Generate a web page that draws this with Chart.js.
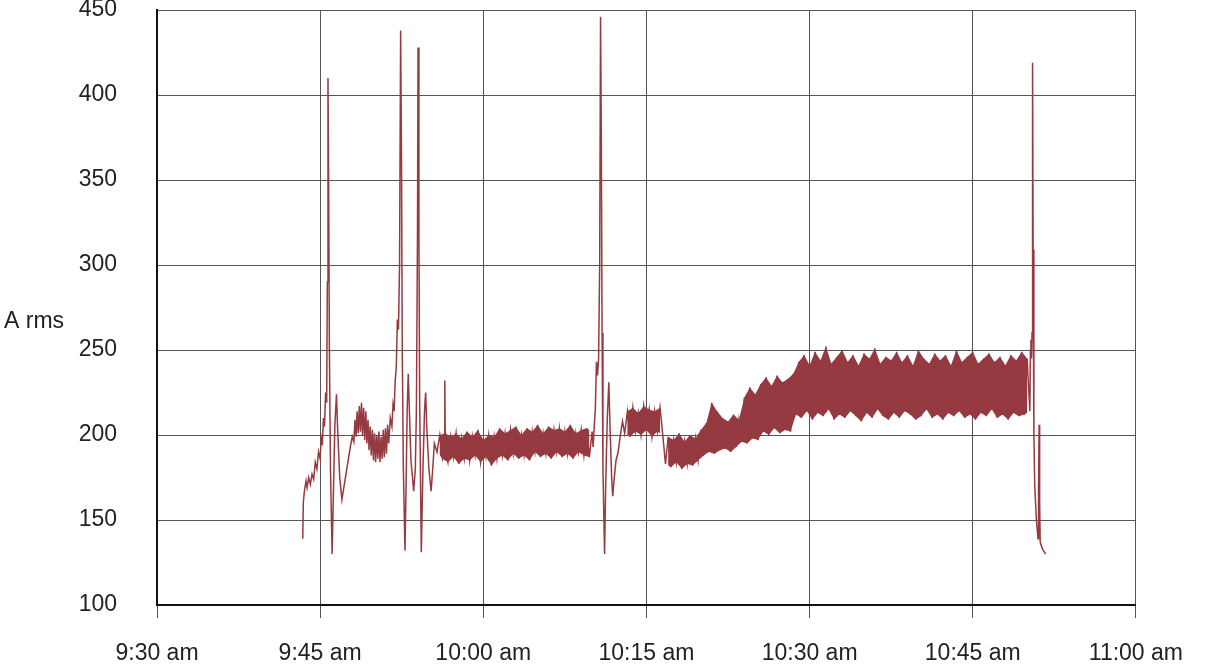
<!DOCTYPE html>
<html>
<head>
<meta charset="utf-8">
<script src="https://cdn.jsdelivr.net/npm/chart.js@4.4.1/dist/chart.umd.min.js"></script>
<style>
  html, body { margin: 0; padding: 0; background: #fff; }
  #wrap { position: relative; width: 1205px; height: 666px; }
</style>
</head>
<body>
<div id="wrap"><canvas id="ampChart"></canvas></div>
<script>
// minutes after 9:30 am on the x axis
const timeLabels = ["9:30 am", "9:45 am", "10:00 am", "10:15 am", "10:30 am", "10:45 am", "11:00 am"];
const yMin = 100;
const yMax = 450;
const yStep = 50;
const xStep = 15;

// start-up transients, [minute, A rms]
const startTrace = [
  [13.40,139],[13.45,160],[13.55,167],[13.7,173],[13.8,169],[13.95,175],[14.1,171],[14.25,177],[14.4,174],
  [14.55,184],[14.7,180],[14.85,190],[15.0,186],[15.1,198],[15.2,194],[15.3,210],[15.4,205],[15.5,225],
  [15.6,219],[15.66,290],[15.72,410],[15.78,348],[15.85,250],[15.95,180],[16.1,130],[16.2,160],[16.35,205],
  [16.5,224],[16.6,205],[16.8,175],[17.0,162],[17.15,168],[17.35,176],[17.55,184],[17.75,192],[17.95,199],
  [18.1,196],[18.2,209],[18.3,199],[18.4,214],[18.5,201],[18.6,217],[18.7,202],[18.8,219],[18.9,200],
  [19.0,216],[19.1,197],[19.2,214],[19.3,195],[19.4,209],[19.5,191],[19.6,205],[19.7,188],[19.8,203],
  [19.9,185],[20.0,201],[20.1,184],[20.2,200],[20.3,186],[20.4,202],[20.5,184],[20.6,199],[20.7,186],
  [20.8,203],[20.9,187],[21.0,204],[21.1,189],[21.2,206],[21.3,195],[21.45,210],[21.6,205],[21.7,218],
  [21.8,214],[21.9,232],[22.0,240],[22.1,268],[22.2,262],[22.3,300],[22.4,438],[22.48,362],[22.55,250],
  [22.65,180],[22.8,132],[22.9,170],[23.0,215],[23.1,236],[23.2,215],[23.35,185],[23.6,167],[23.75,180],
  [23.85,215],[23.95,320],[24.0,428],[24.08,318],[24.15,220],[24.3,131],[24.45,180],[24.6,215],[24.7,225],
  [24.8,205],[25.0,180],[25.2,167],[25.35,180],[25.5,195]
];

// short blip just after 9:56
const blipTrace = [[26.42,190],[26.46,232],[26.52,191]];

// steady running, sampled every 0.25 min (low, high, low, high ...)
const band1Start = 25.75;
const band1 = [
  190,200,186,201,184,199,187,201,183,198,
  186,202,185,199,188,203,184,197,187,200,
  182,199,186,204,188,201,185,203,189,205,
  186,200,188,204,185,202,190,206,187,201,
  189,205,186,203,190,204,187,202,189,206,
  186,201,190,203,188,204,187,202
];

const spikeTrace = [
  [40.1,193],[40.2,205],[40.3,215],[40.4,243],[40.5,235],[40.6,245],[40.7,300],[40.78,446],[40.85,375],
  [40.92,260],[41.0,180],[41.15,130],[41.25,170],[41.4,210],[41.54,231],[41.65,205],[41.8,175],[41.9,164],
  [42.0,172],[42.2,185],[42.4,190],[42.6,200],[42.8,208]
];

const band2Start = 43.0;
const band2 = [201,214,199,216,202,213,200,217,203,215,199,214,202,216,200];

const band3Start = 46.75;
const band3 = [
  183,199,181,197,184,201,180,196,183,200,182,198,185,
  203,188,207,190,219,189,214,191,
  210,192,208,190,212,193,209,
  196,222,195,228,198,224,197,
  230,202,234,200,229,204,235,201,231,203,233,202,236,
  212,243,210,247,214,241,209,249,213,244,
  211,252,215,242,209,246,212,250,210,243,
  214,247,211,241,208,248,213,245,210,251,
  215,242,211,246,209,244,213,249,210,243,
  214,247,212,241,209,250,211,245,215,242,
  210,248,212,244,209,247,213,241,211,250,
  214,243,210,246,212,249,209,242,213,245,
  211,248,215,243,210,246,212,241,209,247,
  213,244,211,249,212,245,214
];
const bandStep = 0.25;

// shutdown
const endTrace = [
  [80.3,250],[80.35,256],[80.4,245],[80.45,260],[80.5,419],[80.55,309],[80.62,200],[80.7,170],[80.85,150],
  [81.0,139],[81.05,170],[81.1,206],[81.15,160],[81.2,137],[81.4,133],[81.6,131],[81.7,130]
];

const traceColor = "#953a40";

function pairs(list) {
  return list.map(p => ({ x: p[0], y: p[1] }));
}
function sampled(start, values) {
  return values.map((v, i) => ({ x: start + i * bandStep, y: v }));
}

const points = [
  ...pairs(startTrace),
  ...sampled(band1Start, band1),
  ...pairs(blipTrace),
  ...pairs(spikeTrace),
  ...sampled(band2Start, band2),
  ...sampled(band3Start, band3),
  ...pairs(endTrace)
].sort((a, b) => a.x - b.x);

// shaded envelope for each noisy band: highs on odd samples, lows on even
const datasets = [];
[[band1Start, band1], [band2Start, band2], [band3Start, band3]].forEach(([start, values]) => {
  const pts = sampled(start, values);
  datasets.push({
    data: pts.filter((p, i) => i % 2 === 1),
    borderWidth: 0,
    pointRadius: 0,
    fill: false,
    order: 2
  });
  datasets.push({
    data: pts.filter((p, i) => i % 2 === 0),
    borderWidth: 0,
    pointRadius: 0,
    backgroundColor: traceColor,
    fill: "-1",
    order: 2
  });
});
datasets.push({
  data: points,
  borderColor: traceColor,
  borderWidth: 1.5,
  pointRadius: 0,
  tension: 0,
  fill: false,
  order: 1
});

const fontFamily = "'Liberation Sans', Arial, sans-serif";

const axisTitle = {
  id: "axisTitle",
  afterDraw(chart) {
    const ctx = chart.ctx;
    ctx.save();
    ctx.font = "23px " + fontFamily;
    ctx.fillStyle = "#222";
    ctx.textBaseline = "middle";
    ctx.textAlign = "left";
    ctx.fillText("A rms", 4, 322);
    ctx.restore();
  }
};

new Chart(document.getElementById("ampChart"), {
  type: "line",
  data: { datasets: datasets },
  options: {
    responsive: true,
    maintainAspectRatio: false,
    animation: false,
    events: [],
    layout: { padding: { top: 10, right: 68, left: 0, bottom: 0 } },
    plugins: {
      legend: { display: false },
      tooltip: { enabled: false }
    },
    scales: {
      x: {
        type: "linear",
        min: 0,
        max: 90,
        afterFit(scale) { scale.height = 61; },
        ticks: {
          stepSize: xStep,
          color: "#222",
          padding: 22,
          maxRotation: 0,
          font: { size: 23, family: fontFamily },
          callback: (v) => timeLabels[Math.round(v / xStep)]
        },
        grid: { color: "#555", lineWidth: 1, tickLength: 13 },
        border: { color: "#111", width: 2 }
      },
      y: {
        min: yMin,
        max: yMax,
        afterFit(scale) {
          scale.width = 157;
          scale.paddingTop = 0;
          scale.paddingBottom = 0;
        },
        ticks: {
          stepSize: yStep,
          color: "#222",
          padding: 40,
          font: { size: 23, family: fontFamily }
        },
        grid: { color: "#555", lineWidth: 1, drawTicks: false },
        border: { color: "#111", width: 2 }
      }
    }
  },
  plugins: [axisTitle]
});
</script>
</body>
</html>
